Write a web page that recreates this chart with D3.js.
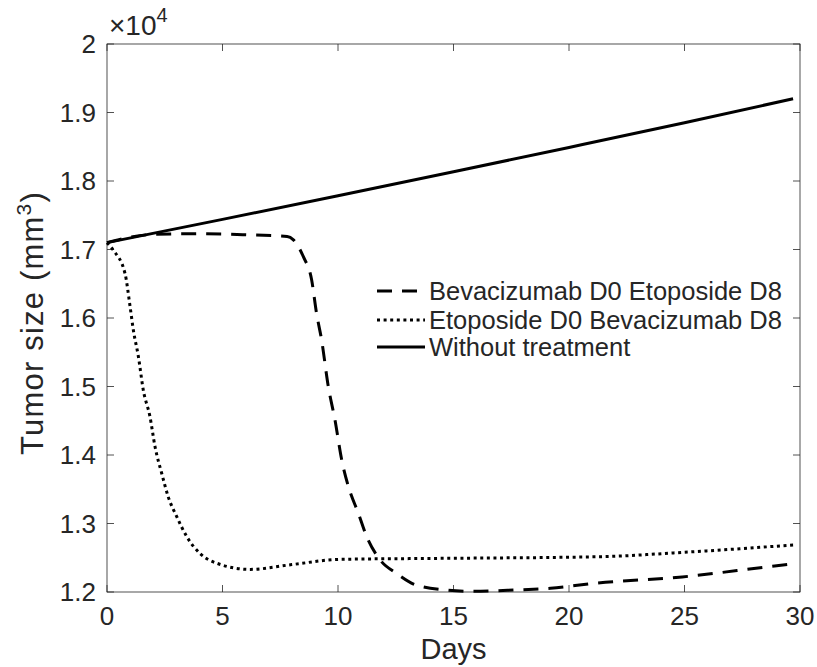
<!DOCTYPE html>
<html><head><meta charset="utf-8">
<script src="https://cdn.jsdelivr.net/npm/d3@7"></script>
<style>body{margin:0;background:#fff}svg{display:block}text{font-family:"Liberation Sans",Arial,sans-serif;fill:#262626}</style>
</head><body><div id="chart"></div>
<script>
const xTicks = [0, 5, 10, 15, 20, 25, 30];
const yTicks = [12000, 13000, 14000, 15000, 16000, 17000, 18000, 19000, 20000];
const yTickLabels = ["1.2", "1.3", "1.4", "1.5", "1.6", "1.7", "1.8", "1.9", "2"];
const seriesNames = ["Bevacizumab D0 Etoposide D8", "Etoposide D0 Bevacizumab D8", "Without treatment"];

const bevaDays = [0, 1, 2, 4, 6, 7.8, 8.07, 8.5, 8.86, 9.07, 9.29, 9.58, 9.87, 10.16, 10.45, 10.88, 11.24, 11.82, 12.54, 13.4, 14.7, 15.86, 17.7, 19.2, 21.05, 24.9, 28.9, 29.7];
const bevaSize = [17100, 17180, 17220, 17230, 17215, 17190, 17140, 16895, 16555, 16070, 15680, 15000, 14510, 13930, 13540, 13150, 12810, 12470, 12270, 12100, 12030, 12010, 12030, 12055, 12125, 12220, 12380, 12410];

const etoDays = [0, 0.27, 0.78, 1.0, 1.14, 1.36, 1.57, 1.86, 2.08, 2.37, 2.65, 3.02, 3.45, 4.03, 4.75, 6.2, 8, 10.1, 14.1, 21.3, 25, 29.7];
const etoSize = [17100, 16990, 16650, 16165, 15825, 15435, 14950, 14560, 14120, 13730, 13390, 13100, 12810, 12560, 12420, 12330, 12400, 12477, 12490, 12515, 12580, 12686];

const noTxDays = [0, 5, 10, 15, 20, 25, 29.7];
const noTxSize = [17100, 17440, 17785, 18135, 18490, 18850, 19200];

const W = 817, H = 667;
const m = {left: 107, right: 817 - 800, top: 44, bottom: 667 - 592};
const svg = d3.select("#chart").append("svg").attr("width", W).attr("height", H);
const x = d3.scaleLinear().domain([0, 30]).range([m.left, W - m.right]);
const y = d3.scaleLinear().domain([12000, 20000]).range([H - m.bottom, m.top]);

const axisColor = "#262626";
svg.append("rect").attr("x", x(0)).attr("y", y(20000)).attr("width", x(30) - x(0)).attr("height", y(12000) - y(20000))
  .attr("fill", "none").attr("stroke", axisColor).attr("stroke-width", 0.8);

const tl = 7;
const g = svg.append("g").attr("stroke", axisColor).attr("stroke-width", 0.8);
xTicks.forEach(t => {
  g.append("line").attr("x1", x(t)).attr("x2", x(t)).attr("y1", y(12000)).attr("y2", y(12000) - tl);
  g.append("line").attr("x1", x(t)).attr("x2", x(t)).attr("y1", y(20000)).attr("y2", y(20000) + tl);
  svg.append("text").attr("x", x(t)).attr("y", y(12000) + 33).attr("text-anchor", "middle")
    .attr("font-size", 26).text(t);
});
yTicks.forEach((t, i) => {
  g.append("line").attr("x1", x(0)).attr("x2", x(0) + tl).attr("y1", y(t)).attr("y2", y(t));
  g.append("line").attr("x1", x(30)).attr("x2", x(30) - tl).attr("y1", y(t)).attr("y2", y(t));
  svg.append("text").attr("x", x(0) - 11).attr("y", y(t) + 9).attr("text-anchor", "end")
    .attr("font-size", 26).text(yTickLabels[i]);
});

// exponent
const ex = svg.append("text").attr("x", x(0) + 2).attr("y", 35).attr("font-size", 28);
ex.append("tspan").text("\u00d710");
ex.append("tspan").attr("dy", -13).attr("font-size", 20).text("4");

// axis labels
svg.append("text").attr("x", (x(0) + x(30)) / 2).attr("y", 659).attr("text-anchor", "middle")
  .attr("font-size", 29).text("Days");
const yl = svg.append("text").attr("transform", `translate(43,323) rotate(-90)`)
  .attr("text-anchor", "middle").attr("font-size", 31).attr("letter-spacing", 1.2);
yl.append("tspan").text("Tumor size (mm");
yl.append("tspan").attr("dy", -12).attr("font-size", 21).text("3");
yl.append("tspan").attr("dy", 12).text(")");

const line = d3.line().x(d => x(d[0])).y(d => y(d[1])).curve(d3.curveMonotoneX);
const styles = [
  {dash: "15,10", width: 3},
  {dash: "3,3.6", width: 3},
  {dash: null, width: 3}
];
const data = [
  d3.zip(bevaDays, bevaSize),
  d3.zip(etoDays, etoSize),
  d3.zip(noTxDays, noTxSize)
];
data.forEach((d, i) => {
  svg.append("path").datum(d).attr("d", line).attr("fill", "none").attr("stroke", "#000")
    .attr("stroke-width", styles[i].width).attr("stroke-dasharray", styles[i].dash);
});

// legend
const legY = [291, 320, 347];
seriesNames.forEach((n, i) => {
  svg.append("line").attr("x1", 377).attr("x2", 425).attr("y1", legY[i]).attr("y2", legY[i])
    .attr("stroke", "#000").attr("stroke-width", 3).attr("stroke-dasharray", styles[i].dash);
  svg.append("text").attr("x", 429).attr("y", legY[i] + 9).attr("font-size", 25.5).attr("fill", "#000").text(n);
});
</script></body></html>
